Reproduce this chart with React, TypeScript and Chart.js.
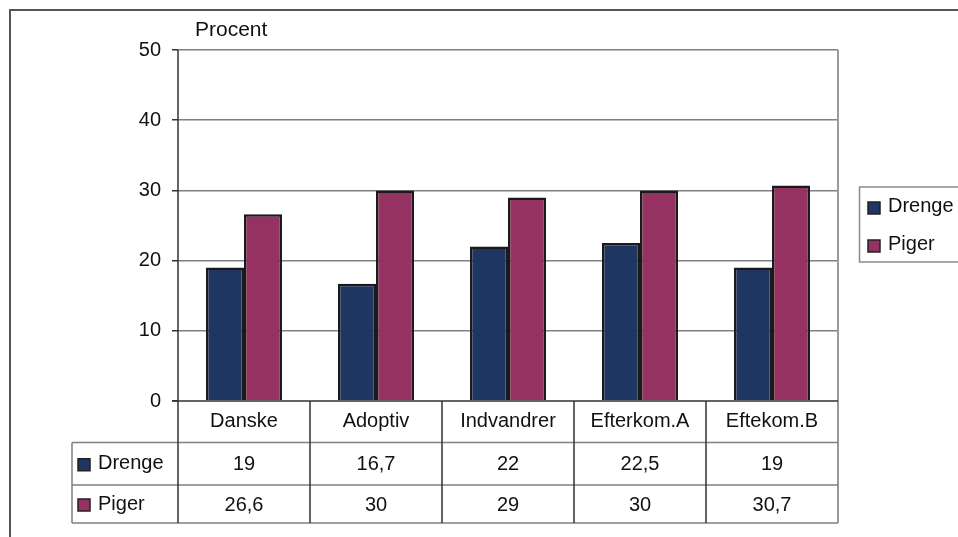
import React, { useEffect, useRef } from "react";
import { Chart, registerables } from "chart.js";
Chart.register(...registerables);

const categories = ["Danske", "Adoptiv", "Indvandrer", "Efterkom.A", "Eftekom.B"];
const drenge = [19, 16.7, 22, 22.5, 19];
const piger = [26.6, 30, 29, 30, 30.7];
const seriesNames = ["Drenge", "Piger"];
const yTicks = [0, 10, 20, 30, 40, 50];
const axisTitle = "Procent";

const BLUE = "#1f3562";
const PINK = "#953262";
const FONT = "'Liberation Sans', Arial, sans-serif";

const fmt = (v: number) => String(v).replace(".", ",");

const tablePlugin = {
  id: "tablePlugin",
  afterDatasetsDraw(chart: any) {
    const { ctx, chartArea: a, scales } = chart;
    const xs = scales.x;
    const ys = scales.y;
    const y0 = ys.getPixelForValue(0);
    const yTop = ys.getPixelForValue(50);
    const n = categories.length;
    const colW = (a.right - a.left) / n;
    const hdrBottom = y0 + 41.5;
    const row1Bottom = y0 + 84;
    const tableBottom = y0 + 122;
    const legLeft = 72;
    const series = [
      { name: seriesNames[0], data: drenge, color: BLUE },
      { name: seriesNames[1], data: piger, color: PINK },
    ];

    ctx.save();
    // outer frame
    ctx.strokeStyle = "#555";
    ctx.lineWidth = 2;
    ctx.beginPath();
    ctx.moveTo(10, 537);
    ctx.lineTo(10, 10);
    ctx.lineTo(958, 10);
    ctx.stroke();

    // plot right border
    ctx.strokeStyle = "#9a9a9a";
    ctx.lineWidth = 2;
    ctx.beginPath();
    ctx.moveTo(a.right, yTop);
    ctx.lineTo(a.right, tableBottom);
    ctx.stroke();

    // table horizontal lines
    ctx.strokeStyle = "#808080";
    ctx.lineWidth = 1.5;
    ctx.beginPath();
    [hdrBottom, row1Bottom, tableBottom].forEach((yy) => {
      ctx.moveTo(legLeft, yy);
      ctx.lineTo(a.right, yy);
    });
    ctx.moveTo(legLeft, hdrBottom);
    ctx.lineTo(legLeft, tableBottom);
    ctx.stroke();

    // column separators
    ctx.strokeStyle = "#333";
    ctx.lineWidth = 1.5;
    ctx.beginPath();
    for (let i = 1; i < n; i++) {
      const xx = xs.getPixelForValue(i) - colW / 2;
      ctx.moveTo(xx, y0);
      ctx.lineTo(xx, tableBottom);
    }
    // y axis line
    ctx.moveTo(a.left, yTop);
    ctx.lineTo(a.left, tableBottom);
    // x axis line
    ctx.moveTo(a.left - 6, y0);
    ctx.lineTo(a.right, y0);
    ctx.stroke();

    // texts
    ctx.fillStyle = "#111";
    ctx.font = `20px ${FONT}`;
    ctx.textAlign = "center";
    ctx.textBaseline = "middle";
    categories.forEach((c, i) => {
      const cx = xs.getPixelForValue(i);
      ctx.fillText(c, cx, (y0 + hdrBottom) / 2);
      ctx.fillText(fmt(drenge[i]), cx, (hdrBottom + row1Bottom) / 2 + 1);
      ctx.fillText(fmt(piger[i]), cx, (row1Bottom + tableBottom) / 2 + 1);
    });

    // table legend column
    ctx.textAlign = "left";
    const rowCenters = [(hdrBottom + row1Bottom) / 2, (row1Bottom + tableBottom) / 2];
    series.forEach((s, k) => {
      const cy = rowCenters[k];
      ctx.fillStyle = s.color;
      ctx.fillRect(78, cy - 5, 12, 12);
      ctx.strokeStyle = "#222";
      ctx.lineWidth = 1.5;
      ctx.strokeRect(78, cy - 5, 12, 12);
      ctx.fillStyle = "#111";
      ctx.fillText(s.name, 98, cy);
    });

    // legend box
    ctx.strokeStyle = "#8a8a8a";
    ctx.lineWidth = 1.5;
    ctx.strokeRect(859.5, 187, 140, 75);
    series.forEach((s, k) => {
      const cy = 206 + k * 38;
      ctx.fillStyle = s.color;
      ctx.fillRect(868, cy - 4, 12, 12);
      ctx.strokeStyle = "#222";
      ctx.lineWidth = 1.5;
      ctx.strokeRect(868, cy - 4, 12, 12);
      ctx.fillStyle = "#111";
      ctx.fillText(s.name, 888, cy);
    });

    // axis title
    ctx.font = `21px ${FONT}`;
    ctx.fillText(axisTitle, 195, 30);
    ctx.restore();
  },
};

export default function App() {
  const ref = useRef<HTMLCanvasElement>(null);
  useEffect(() => {
    document.body.style.margin = "0";
    const chart = new Chart(ref.current as HTMLCanvasElement, {
      type: "bar",
      data: {
        labels: categories,
        datasets: [
          { label: seriesNames[0], data: drenge, backgroundColor: BLUE, borderColor: "#1a1a1a", borderWidth: 2.5 },
          { label: seriesNames[1], data: piger, backgroundColor: PINK, borderColor: "#1a1a1a", borderWidth: 2.5 },
        ],
      },
      options: {
        animation: false,
        responsive: true,
        maintainAspectRatio: false,
        layout: { padding: { left: 0, top: 50, right: 120, bottom: 136 } },
        plugins: { legend: { display: false }, tooltip: { enabled: false } },
        datasets: { bar: { categoryPercentage: 0.576, barPercentage: 1 } },
        scales: {
          x: { display: false },
          y: {
            min: 0,
            max: 50,
            afterBuildTicks: (s: any) => {
              s.ticks = yTicks.map((v) => ({ value: v }));
            },
            ticks: { color: "#111", font: { family: FONT, size: 20 }, padding: 11 },
            grid: {
              color: (c: any) => (c.tick && c.tick.value === 0 ? "rgba(0,0,0,0)" : "#808080"),
              lineWidth: 1.5,
              tickLength: 6,
              tickColor: "#333",
              drawTicks: true,
            },
            border: { display: false },
            afterFit: (s: any) => {
              s.width = 178;
            },
          },
        },
      },
      plugins: [tablePlugin],
    } as any);
    return () => chart.destroy();
  }, []);
  return (
    <div style={{ position: "absolute", left: 0, top: 0, width: 958, height: 537 }}>
      <canvas ref={ref} />
    </div>
  );
}
